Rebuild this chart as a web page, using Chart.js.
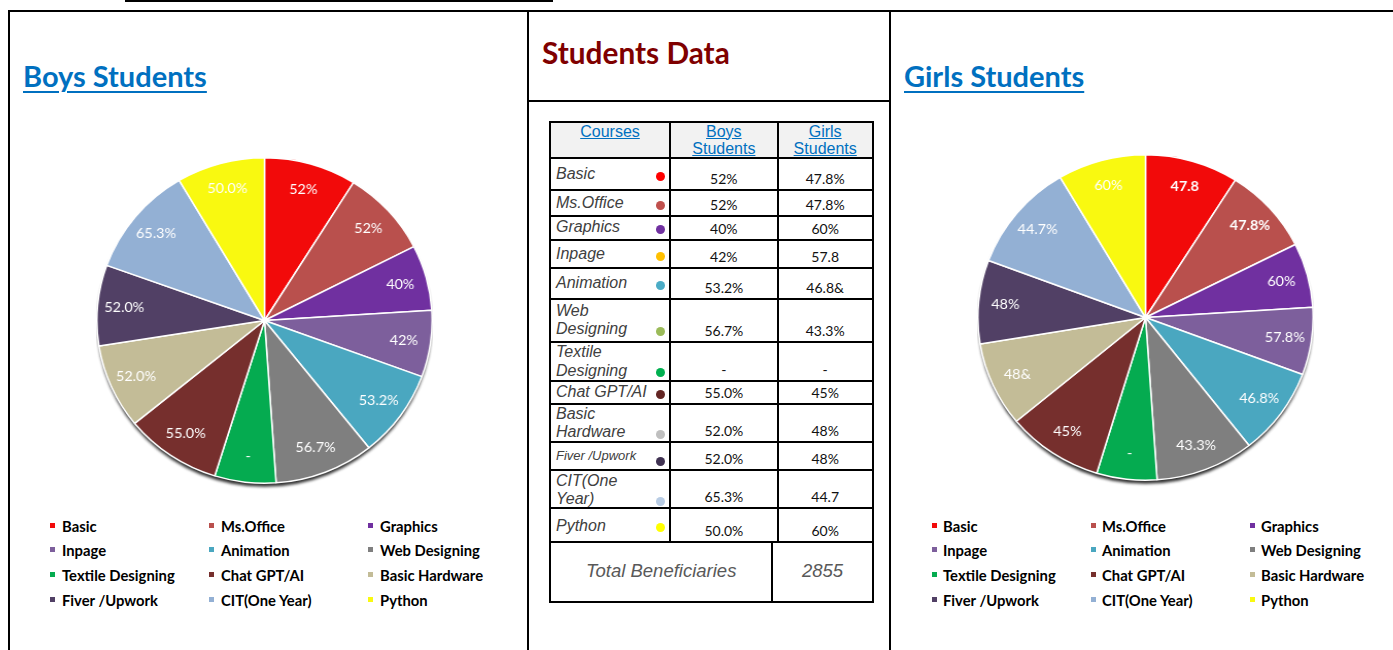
<!DOCTYPE html>
<html><head><meta charset="utf-8">
<script src="https://cdn.jsdelivr.net/npm/chart.js@4.4.1/dist/chart.umd.min.js"></script>
<style>
html,body{margin:0;padding:0;background:#fff}
body{width:1393px;height:650px;overflow:hidden;position:relative;font-family:Lato,"Open Sans",sans-serif}
.ln{position:absolute;background:#000}
.abs{position:absolute;white-space:nowrap}
.title{position:absolute;font-family:Lato;font-weight:700;color:#0070C0;text-decoration:underline;text-decoration-thickness:2px;text-underline-offset:4px;font-size:29px;line-height:29px;white-space:nowrap}
.leg{position:absolute;font-family:Lato;font-weight:700;font-size:14.8px;line-height:16px;color:#000;white-space:nowrap}
.mk{position:absolute;width:5px;height:5px}
.course{position:absolute;font-family:"Liberation Sans",Arial,sans-serif;font-style:italic;color:#404040;white-space:nowrap}
.val{position:absolute;font-family:Lato;font-size:14px;line-height:17px;color:#111;text-align:center;white-space:nowrap}
.hdr{position:absolute;font-family:"Liberation Sans",Arial,sans-serif;font-size:16px;line-height:17.7px;color:#0070C0;text-decoration:underline;text-align:center}
.dot{position:absolute;width:9px;height:9px;border-radius:50%}
.pie{position:absolute;transform-origin:163.5px 163.5px;transform:scaleX(1.03)}
</style>
</head>
<body>
<script>
// ---------- data ----------
const courses = ["Basic","Ms.Office","Graphics","Inpage","Animation","Web Designing","Textile Designing","Chat GPT/AI","Basic Hardware","Fiver /Upwork","CIT(One Year)","Python"];
const boysSlices  = [8.9, 8.6, 6.5, 6.6, 8.7, 9.6, 5.9, 9.3, 8.4, 8.0, 11.0, 8.5];
const girlsSlices = [9.0, 8.6, 6.4, 6.7, 8.7, 9.5, 5.8, 9.3, 8.4, 8.3, 10.8, 8.5];
// text shown on the slices
const boysPieLabels  = ["52%","52%","40%","42%","53.2%","56.7%","-","55.0%","52.0%","52.0%","65.3%","50.0%"];
const girlsPieLabels = ["47.8","47.8%","60%","57.8%","46.8%","43.3%","-","45%","48&","48%","44.7%","60%"];
// table
const tableCourses = ["Basic","Ms.Office","Graphics","Inpage","Animation","Web\nDesigning","Textile\nDesigning","Chat GPT/AI","Basic\nHardware","Fiver /Upwork","CIT(One\nYear)","Python"];
const tableBoys  = ["52%","52%","40%","42%","53.2%","56.7%","-","55.0%","52.0%","52.0%","65.3%","50.0%"];
const tableGirls = ["47.8%","47.8%","60%","57.8","46.8&","43.3%","-","45%","48%","48%","44.7","60%"];
const tableHeaders = ["Courses","Boys\nStudents","Girls\nStudents"];
const totalLabel = "Total Beneficiaries";
const totalValue = "2855";

// ---------- styles ----------
const pieColors = ["#F20A0A","#B9504D","#7030A0","#7D5F9C","#4AA7C0","#7F7F7F","#05AB50","#762F2D","#C3BC97","#514065","#93B0D4","#F9F910"];
const dotColors = ["#FF0000","#C0504D","#7030A0","#FFC000","#4BACC6","#9BBB59","#00B050","#632523","#BFBFBF","#3F3151","#B8CCE4","#FFFF00"];

function el(cls, css, html){
  const d=document.createElement('div'); d.className=cls;
  Object.assign(d.style, css); if(html!==undefined) d.innerHTML=html;
  document.body.appendChild(d); return d;
}
function px(v){return v+'px';}
function hl(x1,x2,y,w){el('ln',{left:px(x1),top:px(y-w/2),width:px(x2-x1),height:px(w)});}
function vl(x,y1,y2,w){el('ln',{left:px(x-w/2),top:px(y1),width:px(w),height:px(y2-y1)});}

// ---------- frame lines ----------
hl(125,553,1,2);
hl(8,1393,11,2);
vl(9,10,650,2);
vl(528,10,650,2);
vl(890,10,650,2);
hl(527,891,101,2);

// ---------- titles ----------
el('title',{left:'23px',top:'61px'},'Boys Students');
el('title',{left:'904px',top:'61px'},'Girls Students');
el('abs',{left:'542px',top:'37.5px',fontFamily:'Lato',fontWeight:'700',fontSize:'29.8px',lineHeight:'29.8px',color:'#7F0000'},'Students Data');

// ---------- table ----------
const rowY=[121.7,157.7,190,216,240,268.3,299,342.3,381,404,442.3,470,508.3,541.7,601.7];
const colX=[550,670,777.7,872.7];
const totSplit=772.3;
const capTops=[168.3,197.3,221.7,248.3,277.3,305,346.7,386.7,408.3,451.7,475,520];
el('abs',{left:px(colX[0]),top:px(rowY[0]),width:px(colX[3]-colX[0]),height:px(rowY[1]-rowY[0]),background:'#F2F2F2'});
for(let c=0;c<3;c++){
  el('hdr',{left:px(colX[c]),width:px(colX[c+1]-colX[c]),top:px(122.5)},tableHeaders[c].replace('\n','<br>'));
}
for(let i=0;i<12;i++){
  const fs = (i===9)?13:16, lh=18.3;
  const top = capTops[i] - ((lh-1.117*fs)/2 + 0.905*fs - 0.716*fs);
  el('course',{left:'556px',top:px(top),fontSize:px(fs),lineHeight:px(lh)},tableCourses[i].replace('\n','<br>'));
  const nl = tableCourses[i].split('\n').length;
  const dy = capTops[i] + (nl-1)*lh + 5.75*(fs/16) + 2 + (i===9?3:0);
  el('dot',{left:px(660-4.5),top:px(dy-4.5),background:dotColors[i]});
  const bottom=rowY[i+2];
  el('val',{left:px(colX[1]),width:px(colX[2]-colX[1]),top:px(bottom-19.9)},tableBoys[i]);
  el('val',{left:px(colX[2]),width:px(colX[3]-colX[2]),top:px(bottom-19.9)},tableGirls[i]);
}
const totCss={textAlign:'center',top:px(560),fontFamily:'"Liberation Sans",Arial',fontStyle:'italic',fontSize:'18.5px',lineHeight:'22px',color:'#595959'};
el('abs',Object.assign({left:px(colX[0]),width:px(totSplit-colX[0])},totCss),totalLabel);
el('abs',Object.assign({left:px(totSplit),width:px(colX[3]-totSplit)},totCss),totalValue);
for(const y of rowY) hl(colX[0]-1,colX[3]+1,y,2);
vl(colX[0],rowY[0],rowY[14],2); vl(colX[3],rowY[0],rowY[14],2);
vl(colX[1],rowY[0],rowY[13],2); vl(colX[2],rowY[0],rowY[13],2);
vl(totSplit,rowY[13],rowY[14],2);

// ---------- legends ----------
function legend(markX,textX){
  const rows=[531,555.5,580.5,605];
  courses.forEach((c,i)=>{
    const col=i%3,row=Math.floor(i/3);
    el('mk',{left:px(markX[col]),top:px(rows[row]-8.5),background:pieColors[i]});
    el('leg',{left:px(textX[col]),top:px(rows[row]-13.4)},c);
  });
}
legend([50,209,368],[62,221,380]);
legend([932,1091,1250],[943,1102,1261]);

// ---------- pies ----------
const shadowPlugin={id:'shadow',beforeDatasetsDraw(chart){
  const a=chart.getDatasetMeta(0).data[0]; if(!a) return;
  const ctx=chart.ctx; ctx.save();
  ctx.filter='blur(1.5px)';
  ctx.beginPath(); ctx.arc(a.x,a.y+4,a.outerRadius-0.5,0,Math.PI*2);
  ctx.fillStyle='rgba(25,25,25,0.9)'; ctx.fill(); ctx.restore();
}};
const labelPlugin={id:'lbls',afterDatasetsDraw(chart){
  const ctx=chart.ctx, meta=chart.getDatasetMeta(0), labs=chart.options.plugins.lbls.labels, bold=chart.options.plugins.lbls.bold;
  meta.data.forEach((a,i)=>{
    const mid=(a.startAngle+a.endAngle)/2, r=a.outerRadius*0.84;
    const x=a.x+Math.cos(mid)*r, y=a.y+Math.sin(mid)*r;
    ctx.save();
    ctx.font=(bold.includes(i)?'700 ':'400 ')+'14px Lato';
    ctx.fillStyle='#fff'; ctx.textAlign='center'; ctx.textBaseline='middle';
    ctx.fillText(labs[i],x,y);
    ctx.restore();
  });
}};
function makePie(cx,cy,values,labels,bold){
  const wrap=el('pie',{left:px(cx-163.5),top:px(cy-163.5),width:'327px',height:'337px'});
  const cv=document.createElement('canvas'); cv.width=327; cv.height=337; wrap.appendChild(cv);
  new Chart(cv,{type:'pie',
    data:{labels:courses,datasets:[{data:values,backgroundColor:pieColors,borderColor:'#ffffff',borderWidth:1.5}]},
    options:{responsive:false,animation:false,events:[],layout:{padding:{bottom:10}},
      plugins:{legend:{display:false},tooltip:{enabled:false},lbls:{labels:labels,bold:bold}}},
    plugins:[shadowPlugin,labelPlugin]});
}
makePie(264,320,boysSlices,boysPieLabels,[]);
makePie(1145.5,317.5,girlsSlices,girlsPieLabels,[0,1]);
</script>
</body></html>
